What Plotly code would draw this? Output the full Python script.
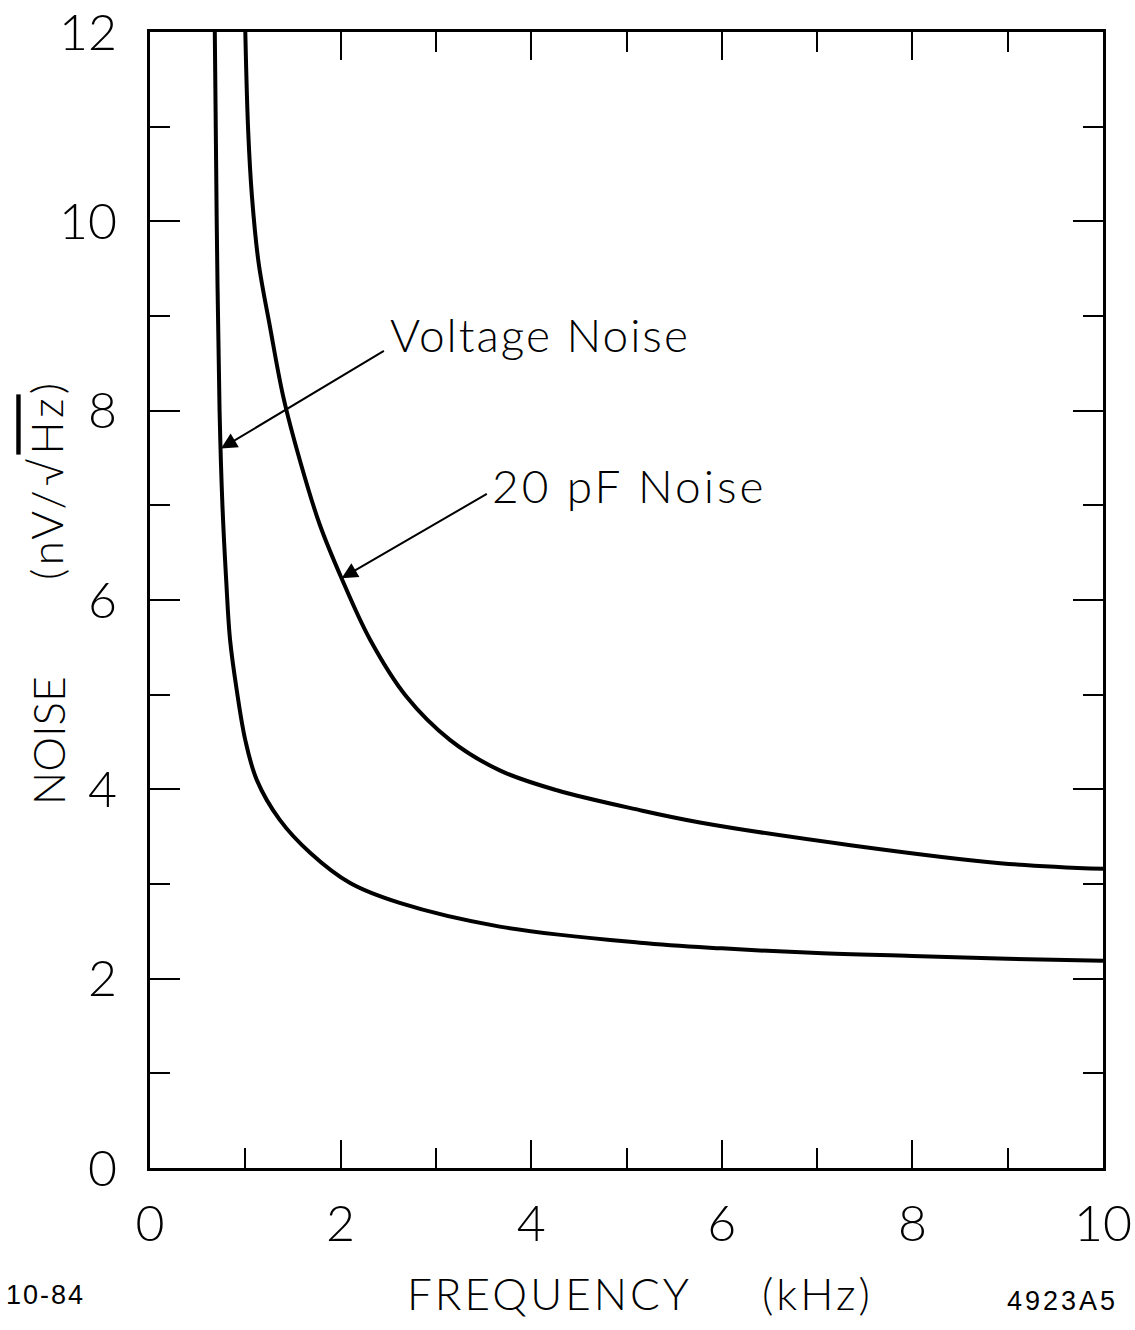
import plotly.graph_objects as go

# ---- data ----
voltage_freq = [0.68, 0.70, 0.73, 0.76, 0.80, 0.84, 0.91, 1.00, 1.12, 1.36, 1.68, 2.10, 2.62, 3.67, 5.14, 6.0, 7.0, 8.0, 9.0, 10.0]
voltage_noise = [12.0, 10.0, 8.0, 7.0, 6.2, 5.58, 5.05, 4.52, 4.10, 3.68, 3.33, 3.01, 2.80, 2.55, 2.38, 2.32, 2.27, 2.24, 2.21, 2.19]

pf20_freq = [1.00, 1.03, 1.07, 1.14, 1.26, 1.40, 1.58, 1.78, 2.01, 2.31, 2.69, 3.15, 3.67, 4.27, 5.14, 5.77, 7.35, 8.92, 10.0]
pf20_noise = [12.0, 10.96, 10.26, 9.56, 8.88, 8.14, 7.45, 6.80, 6.23, 5.58, 4.98, 4.52, 4.20, 3.99, 3.78, 3.65, 3.41, 3.22, 3.16]

x_tick_vals = [0, 2, 4, 6, 8, 10]
x_tick_labels = ["0", "2", "4", "6", "8", "10"]
y_tick_vals = [0, 2, 4, 6, 8, 10, 12]
y_tick_labels = ["0", "2", "4", "6", "8", "10", "12"]

FONT = "Lato"
INK = "black"


def spaced(s, px):
    return f"<span style='letter-spacing:{px}px'>{s}</span>"


fig = go.Figure()
fig.add_trace(go.Scatter(x=voltage_freq, y=voltage_noise, mode="lines",
                         line=dict(color=INK, width=4, shape="spline", smoothing=1.0),
                         name="Voltage Noise", showlegend=False))
fig.add_trace(go.Scatter(x=pf20_freq, y=pf20_noise, mode="lines",
                         line=dict(color=INK, width=4, shape="spline", smoothing=1.0),
                         name="20 pF Noise", showlegend=False))

axis_common = dict(showgrid=False, zeroline=False, showline=True, linecolor=INK, linewidth=3,
                   mirror="ticks", ticks="inside", tickcolor=INK, tickwidth=2, automargin=False,
                   tickfont=dict(family=FONT, size=50, color=INK, weight=300))

fig.update_xaxes(range=[0, 10], tickmode="array", tickvals=x_tick_vals, ticktext=x_tick_labels,
                 ticklen=28, ticklabelstandoff=10,
                 minor=dict(ticks="inside", dtick=1, ticklen=20, tickwidth=2, tickcolor=INK, showgrid=False),
                 **axis_common)
fig.update_yaxes(range=[0, 12], tickmode="array", tickvals=y_tick_vals, ticktext=y_tick_labels,
                 ticklen=30, ticklabelstandoff=20,
                 minor=dict(ticks="inside", dtick=1, ticklen=20, tickwidth=2, tickcolor=INK, showgrid=False),
                 **axis_common)

ann_font = dict(family=FONT, size=46, color=INK, weight=300)
title_font = dict(family=FONT, size=44, color=INK, weight=300)
annotations = [
    # x axis title
    dict(text=spaced("FREQUENCY", 3), xref="paper", yref="paper",
         x=0.4187, y=-0.110, xanchor="center", yanchor="middle", showarrow=False, font=title_font),
    dict(text=spaced("(kHz)", 3), xref="paper", yref="paper",
         x=0.700, y=-0.110, xanchor="center", yanchor="middle", showarrow=False, font=title_font),
    # y axis title
    dict(text=spaced("NOISE", 0), xref="paper", yref="paper", x=-0.107, y=0.376,
         xanchor="center", yanchor="middle", textangle=-90, showarrow=False, font=title_font),
    dict(text=spaced("(nV/√", 4) + "<span style='text-decoration:overline;letter-spacing:4px'>Hz</span>" + ")",
         xref="paper", yref="paper", x=-0.109, y=0.604, xanchor="center", yanchor="middle",
         textangle=-90, showarrow=False, font=title_font),
    # curve labels
    dict(text=spaced("Voltage Noise", 2), xref="x", yref="y", x=2.50, y=8.80, xanchor="left", yanchor="middle",
         showarrow=False, font=ann_font),
    dict(text=spaced("20 pF Noise", 3), xref="x", yref="y", x=3.57, y=7.21, xanchor="left", yanchor="middle",
         showarrow=False, font=ann_font),
    # arrows
    dict(text="", xref="x", yref="y", axref="x", ayref="y", x=0.745, y=7.60, ax=2.47, ay=8.64,
         showarrow=True, arrowhead=2, arrowsize=1.6, arrowwidth=2, arrowcolor=INK),
    dict(text="", xref="x", yref="y", axref="x", ayref="y", x=2.01, y=6.23, ax=3.55, ay=7.13,
         showarrow=True, arrowhead=2, arrowsize=1.6, arrowwidth=2, arrowcolor=INK),
    # footnotes
    dict(text=spaced("10-84", 2), xref="paper", yref="paper", x=-0.153, y=-0.112, xanchor="left", yanchor="middle",
         showarrow=False, font=dict(family="Liberation Sans", size=27, color=INK)),
    dict(text=spaced("4923A5", 3), xref="paper", yref="paper", x=1.018, y=-0.117, xanchor="right", yanchor="middle",
         showarrow=False, font=dict(family="Liberation Sans", size=27, color=INK)),
]

fig.update_layout(width=1135, height=1330, margin=dict(l=150, r=32, t=32, b=162),
                  paper_bgcolor="white", plot_bgcolor="white", showlegend=False,
                  annotations=annotations)

fig.write_html("out.html")
